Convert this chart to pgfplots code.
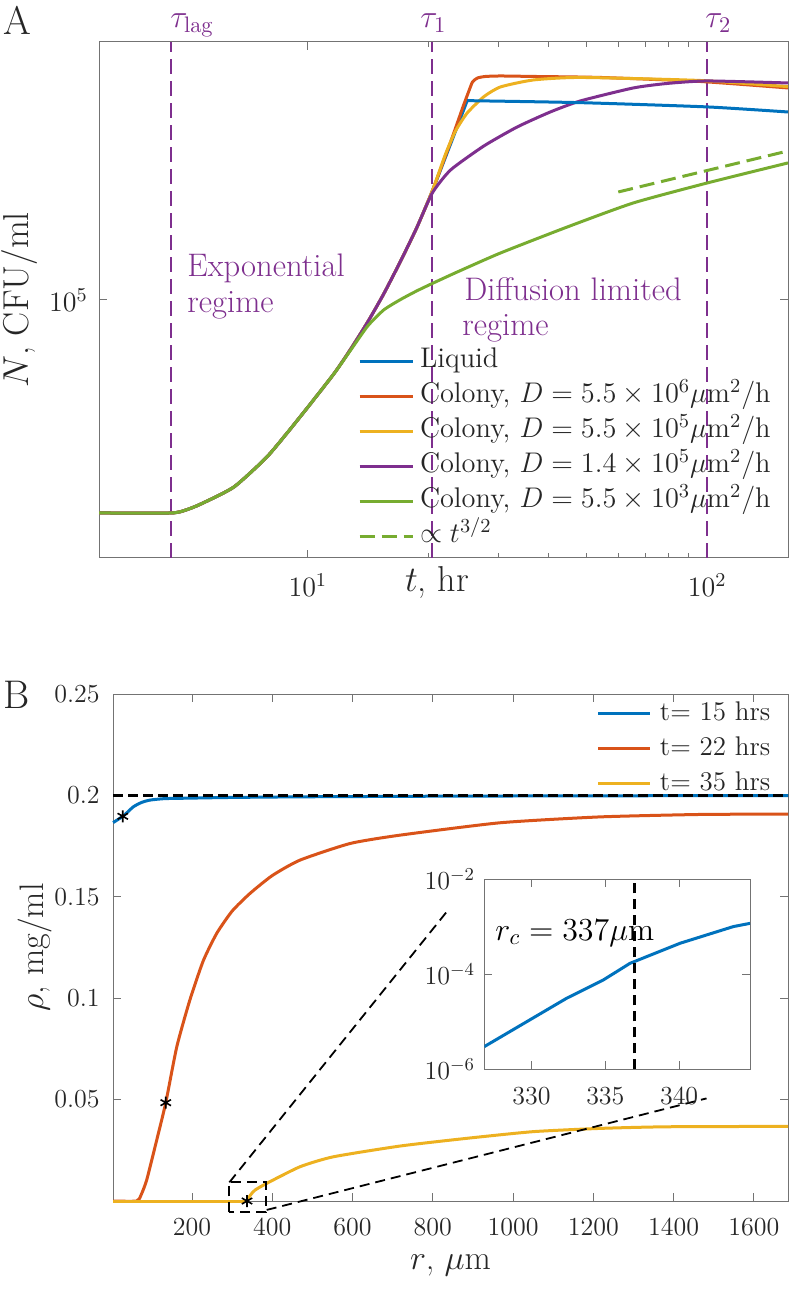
\documentclass[border=0pt]{standalone}
\usepackage{fix-cm}
\usepackage{pgfplots}
\pgfplotsset{compat=1.18}
\definecolor{mblue}{rgb}{0,0.447,0.741}
\definecolor{mred}{rgb}{0.85,0.325,0.098}
\definecolor{myellow}{rgb}{0.929,0.694,0.125}
\definecolor{mpurple}{rgb}{0.494,0.184,0.556}
\definecolor{mgreen}{rgb}{0.466,0.674,0.188}
\definecolor{axgray}{gray}{0.45}
\definecolor{txt}{gray}{0.15}
\pgfplotsset{
  mat/.style={
    scale only axis,
    axis line style={axgray, line width=0.5pt},
    every tick/.style={axgray, line width=0.5pt},
    major tick length=4pt, minor tick length=2.5pt,
    tick align=inside,
    every tick label/.append style={inner sep=0pt, text=txt},
    legend cell align=left,
  },
  curve/.style={line width=1.5pt, smooth, tension=0.35},
}
\begin{document}
\begin{tikzpicture}

% ---------------- panel A ----------------
\begin{axis}[mat,
  at={(49.5pt,-279pt)}, anchor=south west,
  width=344.5pt, height=258pt,
  xmode=log, ymode=log,
  xmin=3, xmax=159.4, ymin=2.5119e4, ymax=3.98107e5,
  xtick={10,100}, ytick={1e5}, yminorticks=false,
  tick label style={font=\fontsize{14}{16}\selectfont},
  xticklabel style={yshift=-7.5pt},
  yticklabel style={xshift=-5.5pt},
  xlabel={$t$, hr}, ylabel={$N$, CFU/ml},
  every axis x label/.style={at={(axis description cs:0.4906,-0.0659)}, anchor=base,
    inner sep=0pt, font=\fontsize{18}{20}\selectfont, text=txt},
  every axis y label/.style={at={(axis description cs:-0.103,0.5)}, anchor=base, rotate=90,
    inner sep=0pt, font=\fontsize{18}{20}\selectfont, text=txt},
  legend style={at={(axis description cs:0.3759,0.4138)}, anchor=north west,
    draw=none, fill=none, inner sep=0pt, outer sep=0pt, row sep=0pt, column sep=3pt,
    nodes={inner sep=0pt, text height=11.75pt, text depth=5.75pt,
      font=\fontsize{14.2}{16}\selectfont, text=txt}},
  legend image code/.code={\draw[#1] (0pt,0pt) -- (26.5pt,0pt);},
]
\addplot[forget plot, mpurple, line width=1pt, dash pattern=on 7.5pt off 3.5pt]
  coordinates {(4.55,2.5119e4) (4.55,3.98107e5)};
\addplot[forget plot, mpurple, line width=1pt, dash pattern=on 7.5pt off 3.5pt]
  coordinates {(20.5,2.5119e4) (20.5,3.98107e5)};
\addplot[forget plot, mpurple, line width=1pt, dash pattern=on 7.5pt off 3.5pt]
  coordinates {(100,2.5119e4) (100,3.98107e5)};

\addplot[curve, mblue] coordinates {
  (3,31970) (4.545,31970) (4.955,32490) (5.401,33550) (6.531,36740)
  (7.943,43380) (9.605,53730) (11.614,67290) (12.81,76920) (14.125,88880)
  (15.488,103270) (17.08,123200) (18.73,147040) (20.50,179260)
  (22.78,230540) (25.07,290750)};
\addlegendentry{Liquid}
\addplot[curve, mred] coordinates {
  (3,31970) (4.545,31970) (4.955,32490) (5.401,33550) (6.531,36740)
  (7.943,43380) (9.605,53730) (11.614,67290) (12.81,76920) (14.125,88880)
  (15.488,103270) (17.08,123200) (18.73,147040) (20.50,179260)
  (22.78,233030) (24.41,279600) (25.26,304570) (25.85,321400) (26.61,328300)
  (27.86,330950) (30.37,331800) (36.73,330950) (54.02,329200) (96.05,322200)
  (159.4,311200)};
\addlegendentry{Colony, $D=5.5\times10^{6}\mu\mathrm{m}^2/\mathrm{h}$}
\addplot[curve, myellow] coordinates {
  (3,31970) (4.545,31970) (4.955,32490) (5.401,33550) (6.531,36740)
  (7.943,43380) (9.605,53730) (11.614,67290) (12.81,76920) (14.125,88880)
  (15.488,103270) (17.08,123200) (18.73,147040) (20.50,179260)
  (22.13,218600) (23.44,247200) (25.07,272200) (27.60,297000) (30.37,312900)
  (36.73,324800) (48.14,329200) (96.05,323900) (159.4,313400)};
\addlegendentry{Colony, $D=5.5\times10^{5}\mu\mathrm{m}^2/\mathrm{h}$}
\addplot[curve, mpurple] coordinates {
  (3,31970) (4.545,31970) (4.955,32490) (5.401,33550) (6.531,36740)
  (7.943,43380) (9.605,53730) (11.614,67290) (12.81,76920) (14.125,88880)
  (15.488,103270) (17.08,123200) (18.73,147040) (20.50,177350)
  (22.78,200600) (27.60,228100) (33.44,252500) (40.50,273700) (48.14,290300)
  (65.31,311200) (79.43,318800) (100,323100) (159.4,319600)};
\addlegendentry{Colony, $D=1.4\times10^{5}\mu\mathrm{m}^2/\mathrm{h}$}
\addplot[curve, mgreen] coordinates {
  (3,31970) (4.545,31970) (4.955,32490) (5.401,33550) (6.531,36740)
  (7.943,43380) (9.605,53730) (11.614,67290) (12.81,76510) (14.125,86990)
  (15.488,94790) (17.08,100270) (18.73,104940) (20.50,109240) (23.67,116160)
  (30.37,128600) (44.67,147850) (65.31,168100) (100,187100) (159.4,208300)};
\addlegendentry{Colony, $D=5.5\times10^{3}\mu\mathrm{m}^2/\mathrm{h}$}
\addplot[curve, mgreen, dash pattern=on 7.5pt off 3.5pt] coordinates {
  (59.91,178300) (159.4,222100)};
\addlegendentry{$\propto t^{3/2}$}
% liquid after its growth stops
\addplot[curve, mblue, forget plot] coordinates {
  (25.07,290750) (48.14,287650) (100,281150) (159.4,273600)};
\end{axis}

% ---------------- panel B ----------------
\begin{axis}[mat,
  at={(56.5pt,-600.5pt)}, anchor=south west,
  width=337.5pt, height=253.5pt,
  xmin=3, xmax=1685, ymin=0, ymax=0.25,
  clip=false,
  xtick={200,400,600,800,1000,1200,1400,1600},
  xticklabels={200,400,600,800,1000,1200,1400,1600},
  ytick={0.05,0.1,0.15,0.2,0.25},
  yticklabels={0.05,0.1,0.15,0.2,0.25},
  scaled ticks=false,
  tick label style={font=\fontsize{13}{15}\selectfont},
  xticklabel style={yshift=-8.5pt},
  yticklabel style={xshift=-6.5pt},
  xlabel={$r$, $\mu$m}, ylabel={$\rho$, mg/ml},
  every axis x label/.style={at={(axis description cs:0.5,-0.136)}, anchor=base,
    inner sep=0pt, font=\fontsize{17}{19}\selectfont, text=txt},
  every axis y label/.style={at={(axis description cs:-0.1037,0.5)}, anchor=base, rotate=90,
    inner sep=0pt, font=\fontsize{17}{19}\selectfont, text=txt},
  legend style={at={(axis description cs:0.717,0.997)}, anchor=north west,
    draw=none, fill=none, inner sep=0pt, outer sep=0pt, row sep=0pt, column sep=4pt,
    nodes={inner sep=0pt, text height=12.5pt, text depth=5pt,
      font=\fontsize{13.5}{15}\selectfont, text=txt}},
  legend image code/.code={\draw[#1] (0pt,0pt) -- (26pt,0pt);},
]
\addplot[curve, mblue] coordinates {
  (3.2,0.1866) (28.9,0.1899) (53.8,0.1944) (75,0.1966) (95.4,0.1977)
  (130,0.1984) (178.3,0.1986) (300,0.1990) (469,0.1993) (800,0.1996)
  (1200,0.1998) (1685,0.1999)};
\addlegendentry{t= 15 hrs}
\addplot[curve, mred] coordinates {
  (3.2,0) (62,0) (73,0.003) (87,0.0104) (112,0.0301) (134.5,0.0485)
  (162,0.0761) (194.5,0.0991) (228,0.1185) (261.5,0.132) (300,0.143)
  (344.5,0.1517) (400,0.1605) (469,0.1681) (594,0.1763) (718,0.1804)
  (967,0.1865) (1216,0.1894) (1465,0.1906) (1685,0.1908)};
\addlegendentry{t= 22 hrs}
\addplot[curve, myellow] coordinates {
  (336.2,0) (345,0.0028) (357,0.0054) (386,0.0087) (469,0.0169)
  (552,0.0218) (718,0.0271) (884,0.0309) (1050,0.0342) (1216,0.0358)
  (1382,0.0366) (1685,0.0368)};
\addlegendentry{t= 35 hrs}
\addplot[forget plot, myellow, line width=1.5pt] coordinates {(3.2,0) (336.2,0)};
\addplot[forget plot, black, line width=1.5pt, dash pattern=on 5pt off 2.5pt]
  coordinates {(3,0.2) (1685,0.2)};
\addplot[forget plot, only marks, mark=asterisk, mark size=3pt, black, line width=0.8pt]
  coordinates {(27.4,0.1897) (134.5,0.0485) (337,0)};
\draw[black, line width=0.9pt, dash pattern=on 5pt off 3pt]
  (axis cs:293,-0.0056) rectangle (axis cs:383.6,0.0092);
\draw[black, line width=0.9pt, dash pattern=on 5pt off 3pt]
  (axis cs:293,0.0092) -- (axis cs:834.5,0.1426);
\draw[black, line width=0.9pt, dash pattern=on 5pt off 3pt]
  (axis cs:386,-0.0044) -- (axis cs:1482,0.0506);
\end{axis}

% ---------------- inset ----------------
\begin{axis}[mat,
  at={(242.15pt,-534.65pt)}, anchor=south west,
  width=132.85pt, height=95.15pt,
  ymode=log,
  xmin=326.8, xmax=344.8, ymin=1e-6, ymax=1e-2,
  xtick={330,335,340}, ytick={1e-6,1e-4,1e-2}, yminorticks=false,
  axis background/.style={fill=white},
  tick label style={font=\fontsize{13}{15}\selectfont},
  xticklabel style={yshift=-9pt},
  yticklabel style={xshift=-4.5pt},
]
\addplot[mblue, line width=1.5pt] coordinates {
  (326.8,3.0e-6) (332.38,3.12e-5) (334.86,7.55e-5) (336.67,1.69e-4)
  (340.06,4.46e-4) (343.67,1.0e-3) (344.8,1.17e-3)};
\addplot[black, line width=1.5pt, dash pattern=on 5pt off 3pt]
  coordinates {(337,1e-6) (337,1e-2)};
\end{axis}

% ---------------- texts ----------------
\begin{scope}[x=0.5pt,y=-0.5pt]
  \node[anchor=base west, inner sep=0pt, text=txt, font=\fontsize{20}{22}\selectfont] at (3,35) {A};
  \node[anchor=base west, inner sep=0pt, text=txt, font=\fontsize{20}{22}\selectfont] at (3,708) {B};
  \node[anchor=base west, inner sep=0pt, text=mpurple, font=\fontsize{16}{18}\selectfont] at (170,28) {$\tau_{\mathrm{lag}}$};
  \node[anchor=base west, inner sep=0pt, text=mpurple, font=\fontsize{16}{18}\selectfont] at (420,28) {$\tau_1$};
  \node[anchor=base west, inner sep=0pt, text=mpurple, font=\fontsize{16}{18}\selectfont] at (705,28) {$\tau_2$};
  \node[anchor=base west, inner sep=0pt, text=mpurple, font=\fontsize{16.3}{18}\selectfont] at (187,277) {Exponential};
  \node[anchor=base west, inner sep=0pt, text=mpurple, font=\fontsize{16.3}{18}\selectfont] at (187,312) {regime};
  \node[anchor=base west, inner sep=0pt, text=mpurple, font=\fontsize{16.3}{18}\selectfont] at (464,300) {Diffusion limited};
  \node[anchor=base west, inner sep=0pt, text=mpurple, font=\fontsize{16.3}{18}\selectfont] at (462,335) {regime};
  \node[anchor=base west, inner sep=0pt, text=black, font=\fontsize{16}{18}\selectfont] at (495,940) {$r_c=337\mu\mathrm{m}$};
\end{scope}
\pgfresetboundingbox
\path[use as bounding box] (0pt,0pt) rectangle (397pt,-644.5pt);
\end{tikzpicture}
\end{document}
